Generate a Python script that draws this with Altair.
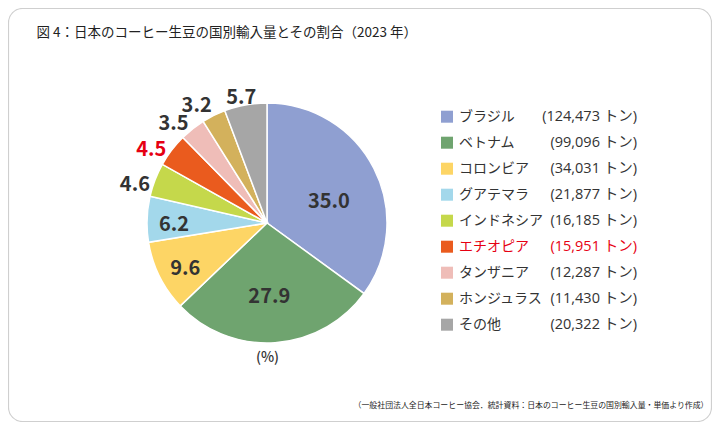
import altair as alt
import pandas as pd

countries = ["ブラジル", "ベトナム", "コロンビア", "グアテマラ", "インドネシア",
             "エチオピア", "タンザニア", "ホンジュラス", "その他"]
tons = [124473, 99096, 34031, 21877, 16185, 15951, 12287, 11430, 20322]
pct_labels = ["35.0", "27.9", "9.6", "6.2", "4.6", "4.5", "3.5", "3.2", "5.7"]
colors = ["#8f9fd1", "#6fa46f", "#fdd565", "#a3d8eb", "#c5d84b",
          "#ea5b1e", "#efbdb8", "#d3b15c", "#a6a6a6"]

title_text = "図 4：日本のコーヒー生豆の国別輸入量とその割合（2023 年）"
note_text = "（一般社団法人全日本コーヒー協会．統計資料：日本のコーヒー生豆の国別輸入量・単価より作成）"
unit_text = "(%)"

FONT = "Noto Sans CJK JP"
FONT_MIX = "Open Sans, Noto Sans CJK JP"
DARK = "#333333"
RED = "#e60012"

df = pd.DataFrame({
    "idx": list(range(len(countries))),
    "country": countries,
    "tons": tons,
    "pct": pct_labels,
    "amount": [f"({t:,} トン)" for t in tons],
})
one = pd.DataFrame({"a": [0]})

cx, cy = 259, 215
color_enc = alt.Color("country:N", scale=alt.Scale(domain=countries, range=colors), legend=None)
red_cond = alt.condition("datum.country == 'エチオピア'", alt.value(RED), alt.value(DARK))

border = alt.Chart(one).mark_rect(
    fill="white", stroke="#cfcfcf", strokeWidth=1.2, cornerRadius=14
).encode(x=alt.value(0.5), x2=alt.value(703.5), y=alt.value(0.5), y2=alt.value(413.5))

base = alt.Chart(df)

pie = base.mark_arc(outerRadius=120, stroke="white", strokeWidth=1.5).encode(
    theta=alt.Theta("tons:Q", stack=True),
    order=alt.Order("idx:Q"),
    color=color_enc,
    x=alt.value(cx), y=alt.value(cy),
)


def labels_layer(cond, r, toff=0.0):
    return base.transform_stack(
        stack="tons", groupby=[], as_=["t0", "t1"], sort=[alt.SortField("idx")]
    ).transform_filter(cond).transform_calculate(
        mid="(datum.t0 + datum.t1) / 2"
    ).mark_text(
        radius=r, thetaOffset=toff, dy=2, font=FONT, fontSize=20, fontWeight="bold",
        align="center", baseline="middle"
    ).encode(
        theta=alt.Theta("mid:Q", scale=alt.Scale(domain=[0, sum(tons)]), stack=False),
        text="pct:N",
        color=red_cond,
        x=alt.value(cx), y=alt.value(cy),
    )


lab_br = labels_layer("datum.idx == 0", 66, 0.115)
lab_vn = labels_layer("datum.idx == 1", 72, 0.035)
lab_mid = labels_layer("datum.idx >= 2 && datum.idx <= 3", 93, -0.035)
lab_out = labels_layer("datum.idx >= 4 && datum.idx <= 7", 138, -0.075)
lab_other = labels_layer("datum.idx == 8", 130, -0.02)

yscale = alt.Scale(domain=[0, 8], range=[108.7, 316.7])

leg_sq = base.mark_square(size=144, opacity=1).encode(
    x=alt.value(439),
    y=alt.Y("idx:Q", scale=yscale, axis=None),
    color=color_enc,
)
leg_name = base.mark_text(font=FONT, fontSize=14, align="left", baseline="middle").encode(
    x=alt.value(451),
    y=alt.Y("idx:Q", scale=yscale, axis=None),
    text="country:N",
    color=red_cond,
)
leg_amt = base.mark_text(font=FONT_MIX, fontSize=14.5, align="right", baseline="middle").encode(
    x=alt.value(629),
    y=alt.Y("idx:Q", scale=yscale, axis=None),
    text="amount:N",
    color=red_cond,
)

title = alt.Chart(one).mark_text(
    text=title_text, font=FONT, fontSize=13.5, align="left", baseline="middle", color="#222222"
).encode(x=alt.value(28.5), y=alt.value(25))

unit = alt.Chart(one).mark_text(
    text=unit_text, font=FONT, fontSize=14, fontWeight=500, align="center", baseline="middle", color=DARK
).encode(x=alt.value(259.5), y=alt.value(350))

note = alt.Chart(one).mark_text(
    text=note_text, font=FONT, fontSize=7.9, align="right", baseline="middle", color="#222222"
).encode(x=alt.value(700.5), y=alt.value(397.7))

chart = alt.layer(
    border, pie, lab_br, lab_vn, lab_mid, lab_out, lab_other,
    leg_sq, leg_name, leg_amt, title, unit, note
).resolve_scale(theta="independent").properties(
    width=704, height=414, padding=0, autosize="none"
).configure_view(stroke=None)

chart.save("out.html", embed_options={"renderer": "svg", "actions": False})
